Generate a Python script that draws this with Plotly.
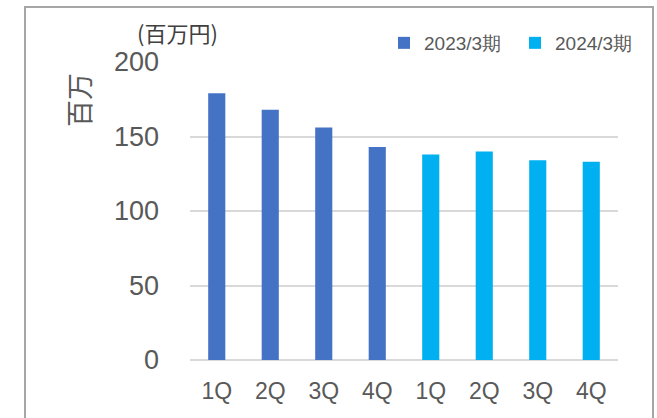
import plotly.graph_objects as go

# Quarterly figures, millions of yen
quarters = ["1Q", "2Q", "3Q", "4Q", "1Q", "2Q", "3Q", "4Q"]
fy2023_values = [179, 168, 156, 143]
fy2024_values = [138, 140, 134, 133]
series_names = ["2023/3期", "2024/3期"]
y_ticks = [0, 50, 100, 150, 200]

colors = ["#4472C4", "#00B0F0"]
num_font = "Liberation Sans, Arial, sans-serif"
jp_font = "Noto Sans CJK JP, sans-serif"
text_gray = "#595959"

x_2023 = list(range(0, 4))
x_2024 = list(range(4, 8))

fig = go.Figure()
fig.add_trace(go.Bar(
    x=x_2023, y=fy2023_values, name=series_names[0],
    marker=dict(color=colors[0], line=dict(width=0)), width=0.32,
))
fig.add_trace(go.Bar(
    x=x_2024, y=fy2024_values, name=series_names[1],
    marker=dict(color=colors[1], line=dict(width=0)), width=0.32,
))

fig.update_layout(
    width=657, height=418,
    margin=dict(l=190, r=39, t=62, b=58, autoexpand=False),
    paper_bgcolor="white", plot_bgcolor="white",
    barmode="overlay",
    font=dict(family=num_font, color=text_gray),
    showlegend=True,
    legend=dict(
        orientation="h", xref="container", yref="container",
        x=384 / 657, xanchor="left", y=1 - 43 / 418, yanchor="middle",
        font=dict(size=19, color=text_gray, family=num_font),
        itemwidth=30, entrywidth=86, entrywidthmode="pixels",
        bgcolor="rgba(0,0,0,0)", borderwidth=0,
    ),
    xaxis=dict(
        range=[-0.5, 7.5],
        tickvals=list(range(8)), ticktext=quarters,
        tickfont=dict(size=23, color=text_gray),
        showgrid=False, zeroline=False, showline=False, ticks="",
        ticklabelstandoff=15,
    ),
    yaxis=dict(
        range=[0, 200], tickvals=y_ticks,
        tickfont=dict(size=27, color=text_gray),
        showgrid=True, gridcolor="#d9d9d9", gridwidth=2,
        zeroline=True, zerolinecolor="#d9d9d9", zerolinewidth=2,
        showline=False, ticks="", ticklabelstandoff=30,
    ),
    shapes=[dict(
        type="rect", xref="paper", yref="paper",
        x0=-165 / 428, x1=(653 - 190) / 428,
        y0=-0.5, y1=(360 - 7) / 298,
        line=dict(color="#a6a6a6", width=2), fillcolor="rgba(0,0,0,0)",
        layer="below",
    )],
    annotations=[
        dict(text="(百万円)", xref="paper", yref="paper",
             x=(177 - 190) / 428, y=(360 - 32) / 298,
             xanchor="center", yanchor="middle", showarrow=False,
             font=dict(size=22, color="#404040", family=jp_font)),
        dict(text="百万", xref="paper", yref="paper",
             x=(78 - 190) / 428, y=(360 - 100) / 298,
             xanchor="center", yanchor="middle", showarrow=False,
             textangle=-90, font=dict(size=27, color=text_gray, family=jp_font)),
    ],
)

fig.write_html("out.html")
